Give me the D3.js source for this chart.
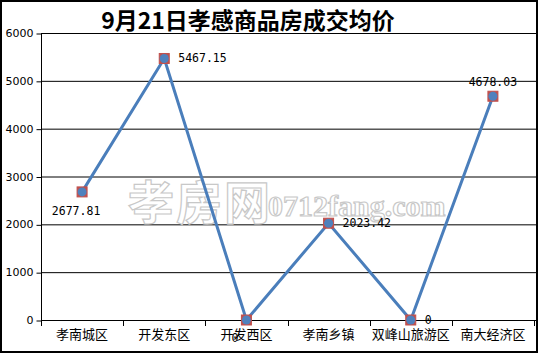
<!DOCTYPE html>
<html><head><meta charset="utf-8">
<script src="https://cdn.jsdelivr.net/npm/d3@7"></script>
<style>body{margin:0;background:#fff}svg{display:block}</style>
</head><body>
<script>
const title = "9月21日孝感商品房成交均价";
const categories = ["孝南城区","开发东区","开发西区","孝南乡镇","双峰山旅游区","南大经济区"];
const values = [2677.81, 5467.15, 0, 2023.42, 0, 4678.03];
const labels = ["2677.81","5467.15","0","2023.42","0","4678.03"];
const yTicks = [0,1000,2000,3000,4000,5000,6000];
// label placement: below, right, below, right, right, above
const labelPos = ["bl","r","b","r","r","t"];

const W=538,H=353;
const svg=d3.select("body").append("svg").attr("width",W).attr("height",H);
svg.append("rect").attr("x",1).attr("y",1).attr("width",W-2).attr("height",H-2)
  .attr("fill","#fff").attr("stroke","#000").attr("stroke-width",2);

const x=d3.scaleBand().domain(categories).range([41,534]);
const y=d3.scaleLinear().domain([0,6000]).range([320,33]);

// gridlines
svg.append("g").selectAll("line").data(yTicks).join("line")
  .attr("x1",41).attr("x2",536).attr("y1",d=>y(d)+0.5).attr("y2",d=>y(d)+0.5)
  .attr("stroke","#000").attr("stroke-width",1);

// watermark
const wm=svg.append("g").attr("fill","#fff").attr("stroke","#c8c8c8").attr("stroke-width",1.2);
wm.append("text").attr("x",128).attr("y",219).attr("font-family","Noto Sans CJK SC")
  .attr("font-size",46).attr("font-weight","bold").attr("letter-spacing",2).text("孝房网");
wm.append("text").attr("x",268).attr("y",216).attr("font-family","Liberation Serif")
  .attr("font-size",30).attr("font-weight","bold").text("0712fang.com");

// y axis
const ya=svg.append("g").attr("transform","translate(41.5,0)")
  .call(d3.axisLeft(y).tickValues(yTicks).tickFormat(d3.format("d")).tickSize(5).tickPadding(3));
ya.select(".domain").attr("stroke","#000").attr("d","M0,33V320.5");
ya.selectAll(".tick line").attr("stroke","#000").attr("transform","translate(0,0.5)");
ya.selectAll("text").attr("font-family","DejaVu Sans").attr("font-size",11).attr("fill","#000");

// x axis
const xa=svg.append("g").attr("transform","translate(0,320.5)")
  .call(d3.axisBottom(x).tickSize(0).tickPadding(9));
xa.select(".domain").remove();
xa.selectAll("text").attr("font-family","Noto Sans CJK SC").attr("font-size",13).attr("fill","#000");
svg.append("g").selectAll("line").data(categories.concat([null])).join("line")
  .attr("x1",(d,i)=>Math.round(41+i*x.bandwidth())+0.5)
  .attr("x2",(d,i)=>Math.round(41+i*x.bandwidth())+0.5)
  .attr("y1",320).attr("y2",326).attr("stroke","#000");

// line
const cx=(d,i)=>x(categories[i])+x.bandwidth()/2;
svg.append("path").datum(values)
  .attr("d",d3.line().x(cx).y(d=>y(d)))
  .attr("fill","none").attr("stroke","#4a7ebb").attr("stroke-width",3);

const m=svg.append("g").selectAll("g").data(values).join("g")
  .attr("transform",(d,i)=>`translate(${cx(d,i)},${y(d)})`);
m.append("rect").attr("x",-5).attr("y",-5).attr("width",10).attr("height",10)
  .attr("fill","#c0504d").attr("stroke","#c0504d");
m.append("circle").attr("r",4.5).attr("fill","#4f81bd");

// labels
svg.append("g").selectAll("text").data(values).join("text")
  .attr("x",(d,i)=>{const c=cx(d,i);const p=labelPos[i];
    return p==="bl"?c-6:p==="r"?c+14:p==="b"?c-15:c;})
  .attr("y",(d,i)=>{const v=y(d);const p=labelPos[i];
    return p==="bl"?v+23:p==="r"?v+4:p==="b"?v+22:v-10;})
  .attr("text-anchor",(d,i)=>labelPos[i]==="bl"||labelPos[i]==="t"?"middle":"start")
  .attr("font-family","DejaVu Sans Mono").attr("font-size",11.5).attr("fill","#000")
  .text((d,i)=>labels[i]);

// title
svg.append("text").attr("x",248).attr("y",29).attr("text-anchor","middle")
  .attr("font-family","Noto Sans CJK SC").attr("font-weight","bold").attr("font-size",23)
  .attr("fill","#000").text(title);
</script>
</body></html>
